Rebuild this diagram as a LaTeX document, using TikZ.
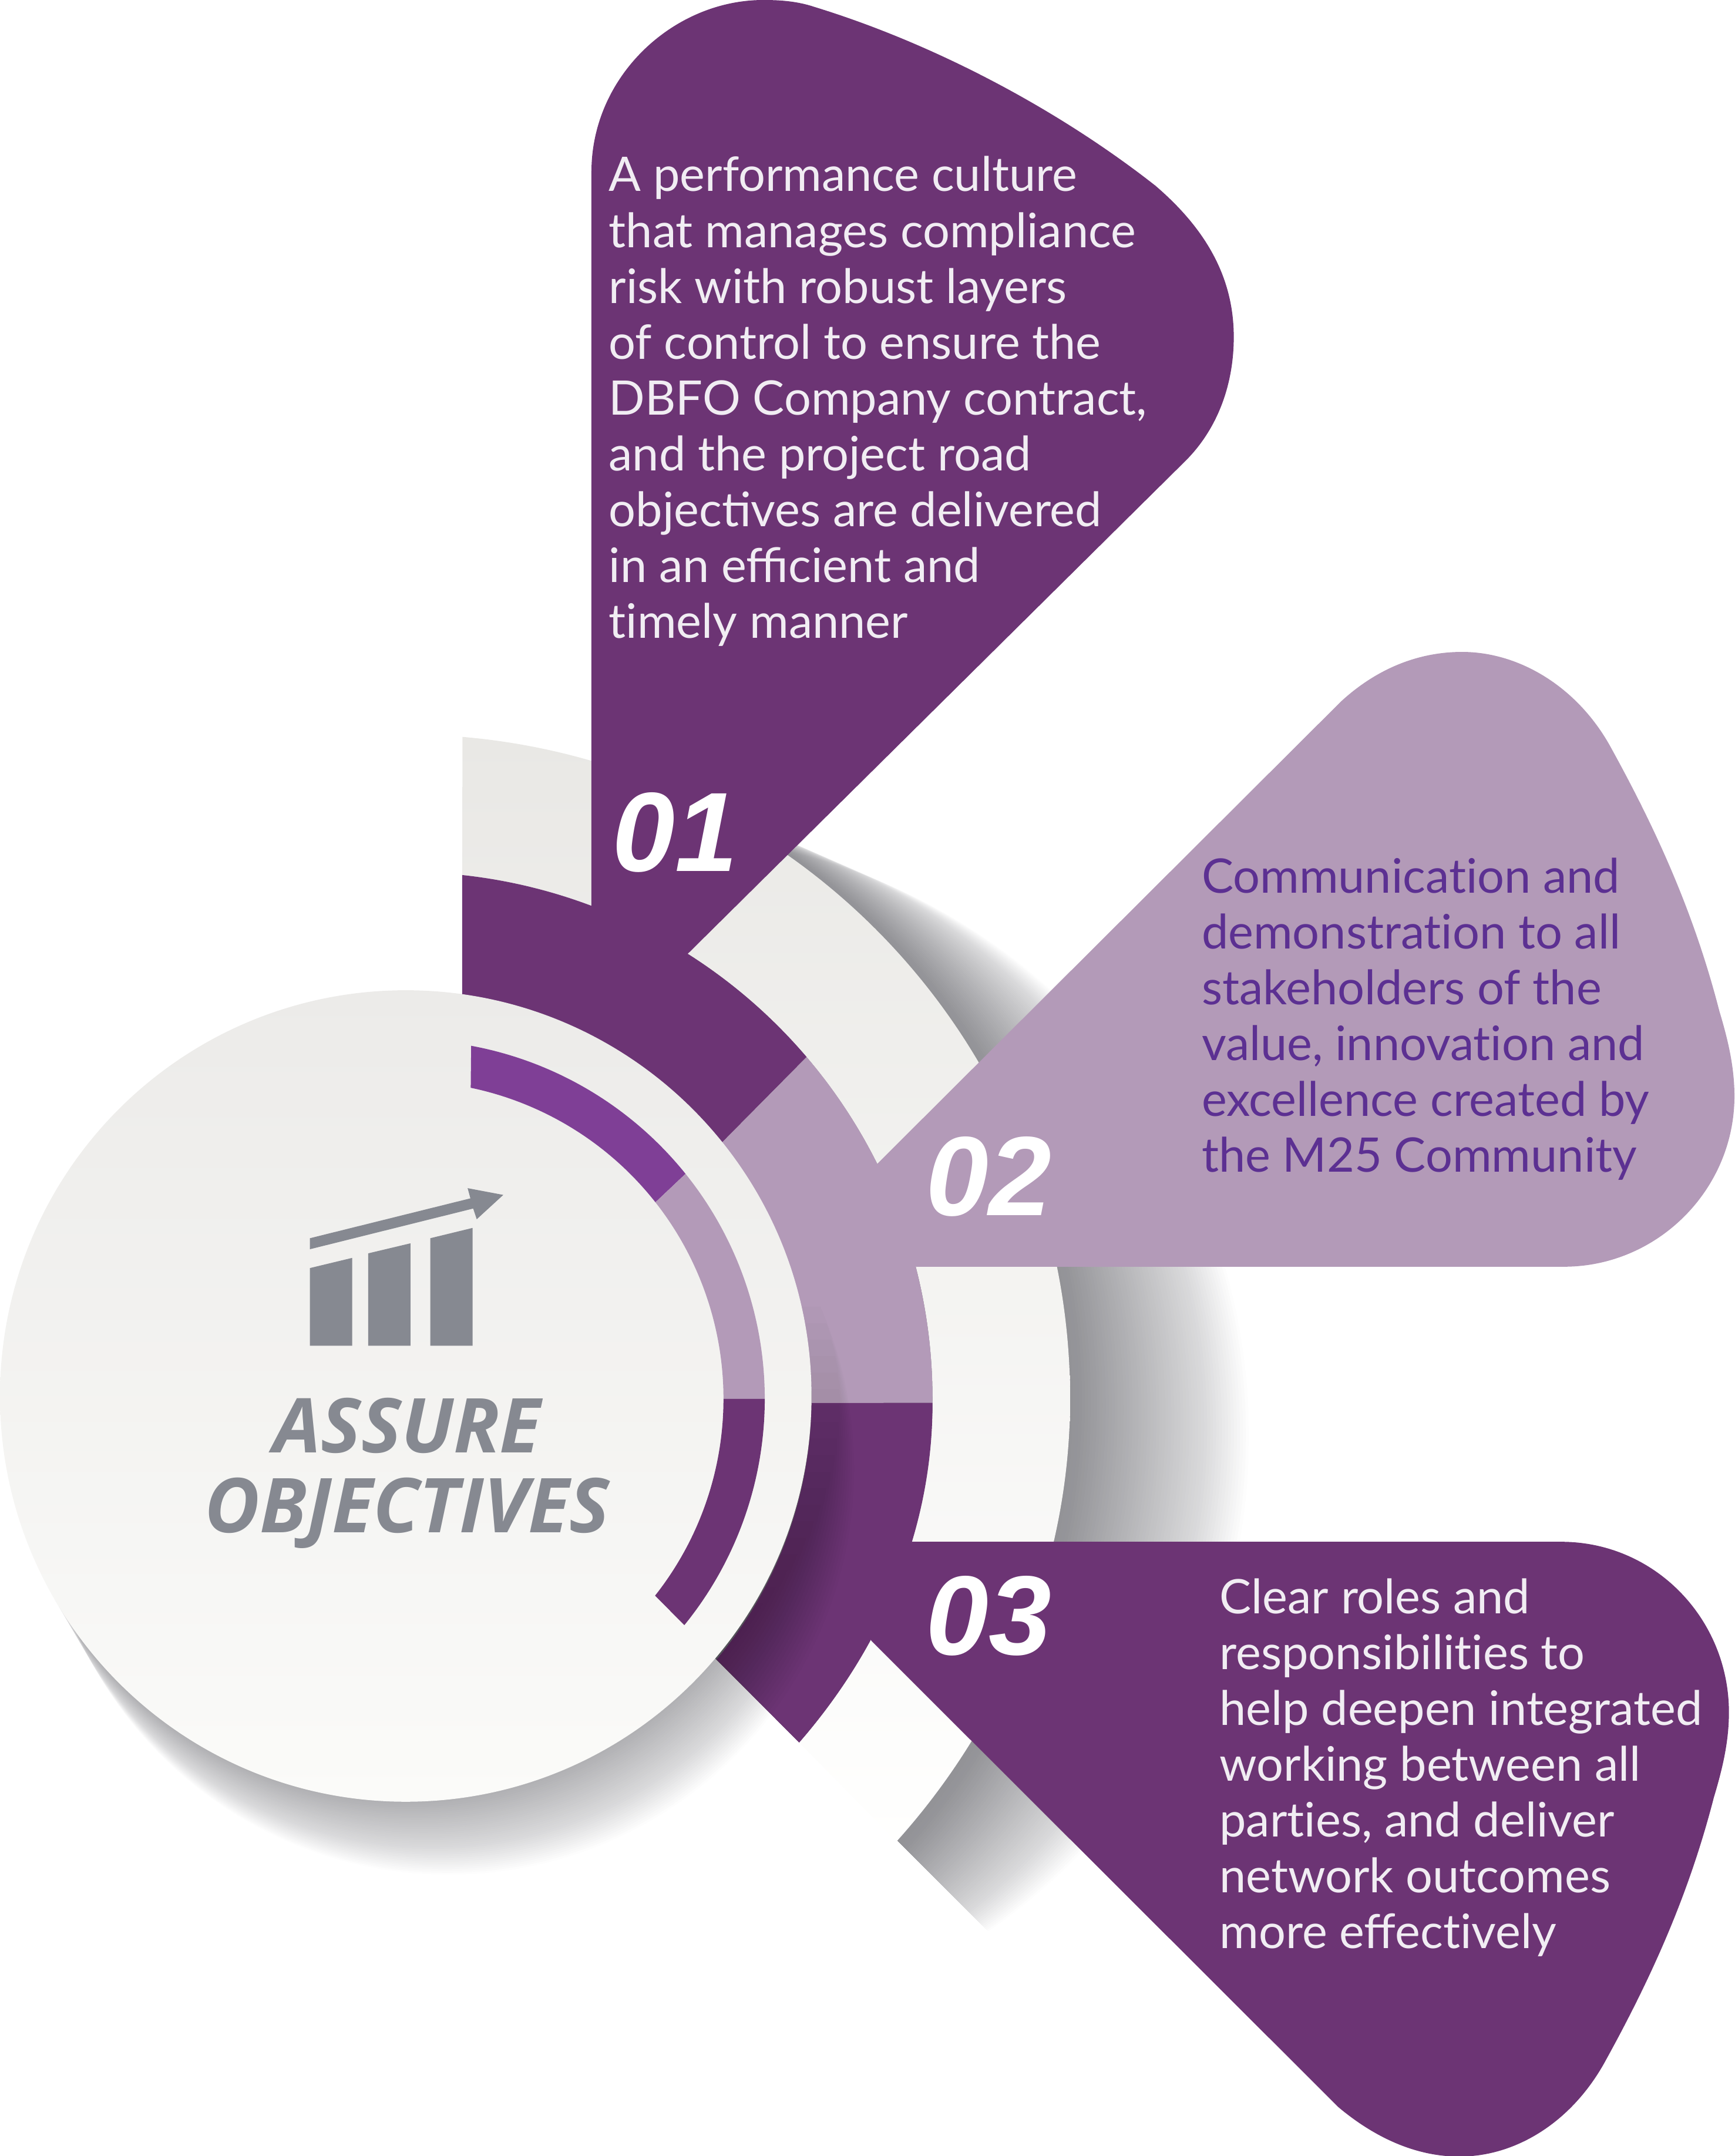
\documentclass[tikz,border=0pt]{standalone}
\usepackage{fontspec}
\setmainfont{Lato}
\newfontfamily\numfont{Liberation Sans}
\newfontfamily\headfont{Open Sans}
\definecolor{plum}{HTML}{6C3474}
\definecolor{lilac}{HTML}{B39AB8}
\definecolor{brightplum}{HTML}{7F3F96}
\definecolor{violettext}{HTML}{5C3092}
\definecolor{paletext}{HTML}{F1EDF3}
\definecolor{icongray}{HTML}{868991}
\definecolor{shadowink}{HTML}{2E2E36}
\definecolor{ringtop}{HTML}{E9E8E5}
\definecolor{ringmid}{HTML}{F2F2F0}
\definecolor{ringend}{HTML}{FFFFFE}
\definecolor{disctop}{HTML}{ECEBE9}
\definecolor{discend}{HTML}{FBFBF9}
\newcommand{\nolig}{\kern0pt }
\tikzset{
  bodytext/.style={inner sep=0pt,align=left,font=\fontsize{34.6}{40.6}\selectfont},
  numtext/.style={inner sep=0pt,text=white,font=\numfont\bfseries\itshape\fontsize{82}{82}\selectfont},
  headtext/.style={inner sep=0pt,text=icongray,align=center,font=\headfont\bfseries\itshape\fontsize{55}{58}\selectfont}
}
\begin{document}
\begin{tikzpicture}[x=1pt,y=-1pt]
\useasboundingbox (0,0) rectangle (1261,1567.6);
\coordinate (c) at (295,1017);
% ring shadow
\begin{scope}
\clip (520,1206) -- (1100,1786) -- (1200,500) -- (560,600) -- (295,1017) -- cycle;
\foreach \t in {1,...,60}{
  \pgfmathsetmacro\f{1-(\t-1)/60}
  \fill[shadowink,fill opacity=0.0115] ({295+176*\f},{1017+27*\f}) circle[radius={483-46*\f}];
}
\end{scope}
% light ring
\path[shade,top color=ringtop,middle color=ringmid,bottom color=ringend]
  ([shift={(-85.1:483)}]c) arc[start angle=-85.1,end angle=0,radius=483]
  .. controls (778,1136) and (731.3,1250.6) .. (651.7,1339) -- (581,1267)
  .. controls (641.4,1197.5) and (678,1112) .. (678,1017)
  arc[start angle=0,end angle=-83.85,radius=383] -- cycle;
% centre disc shadow on the white ground
\foreach \t in {1,...,40}{
  \pgfmathsetmacro\f{1-(\t-1)/40}
  \fill[shadowink,fill opacity=0.0135] ({295+31*\f},{1015+53*\f}) circle[radius=295];
}
% purple and lilac ring segments
\fill[plum] ([shift={(-83.85:383)}]c) arc[start angle=-83.85,end angle=-40.45,radius=383]
  -- ([shift={(-39:295)}]c) arc[start angle=-39,end angle=-82,radius=295] -- cycle;
\fill[lilac] ([shift={(-40.45:383)}]c) arc[start angle=-40.45,end angle=0.45,radius=383]
  -- ([shift={(0.6:295)}]c) arc[start angle=0.6,end angle=-39,radius=295] -- cycle;
\fill[plum] ([shift={(0.45:383)}]c) .. controls (678,1112) and (641.4,1197.5) .. (581,1267)
  -- ([shift={(40:295)}]c) arc[start angle=40,end angle=0.6,radius=295] -- cycle;
% centre disc shadow on the ring segments, fading out upwards
\foreach \t in {1,...,20}{
  \pgfmathsetmacro\f{1-(\t-1)/20}
  \pgfmathsetmacro\topy{950+12*(\t-1)}
  \begin{scope}
  \clip (520,1206) -- (640,1326) -- (720,\topy) -- (500,\topy) -- cycle;
  \fill[black,fill opacity=0.01] ({295+31*\f},{1015+53*\f}) circle[radius=295];
  \end{scope}
}
% centre disc
\path[shade,top color=disctop,bottom color=discend] (295,1015) circle[radius=295];
% inner arcs
\fill[brightplum] ([shift={(-79.5:261)}]c) arc[start angle=-79.5,end angle=-38.8,radius=261]
  -- ([shift={(-38.2:231)}]c) arc[start angle=-38.2,end angle=-78.2,radius=231] -- cycle;
\fill[lilac] ([shift={(-38.8:261)}]c) arc[start angle=-38.8,end angle=0,radius=261]
  -- ([shift={(0:231)}]c) arc[start angle=0,end angle=-38.2,radius=231] -- cycle;
\fill[plum] ([shift={(0:261)}]c) arc[start angle=0,end angle=39.1,radius=261]
  -- ([shift={(38.3:231)}]c) arc[start angle=38.3,end angle=0,radius=231] -- cycle;
% petals
\fill[plum] (430,660) -- (430,125) .. controls (430,55) and (490,0) .. (555,0)
  .. controls (568,0) and (580,1) .. (592,5)
  .. controls (680,32) and (770,80) .. (840,135)
  .. controls (875,165) and (897,200) .. (897,245)
  .. controls (897,280) and (885,312) .. (862,335) -- (500,693.5) -- (440,680) -- cycle;
\fill[lilac] (666,921) -- (1137,921) .. controls (1205,921) and (1261,865) .. (1261,797)
  .. controls (1261,775) and (1256,755) .. (1250,735)
  .. controls (1232,665) and (1205,605) .. (1172,545)
  .. controls (1148,500) and (1105,474) .. (1063,474)
  .. controls (1030,474) and (1000,487) .. (975,510) -- (638,846) -- (620,900) -- cycle;
\fill[plum] (663,1121) -- (1135,1121) .. controls (1203,1121) and (1257,1177) .. (1257,1245)
  .. controls (1257,1267) and (1252,1287) .. (1246,1307)
  .. controls (1228,1377) and (1201,1437) .. (1168,1497)
  .. controls (1144,1542) and (1103,1568) .. (1061,1568)
  .. controls (1028,1568) and (998,1553) .. (973,1532) -- (633.5,1193) -- (620,1150) -- cycle;
% icon
\fill[icongray] (225.3,978.5) -- (225.3,922) -- (256,914.6) -- (256,978.5) -- cycle;
\fill[icongray] (267.7,978.5) -- (267.7,911.3) -- (298.4,904) -- (298.4,978.5) -- cycle;
\fill[icongray] (312.8,978.5) -- (312.8,900.3) -- (343.6,892.8) -- (343.6,978.5) -- cycle;
\fill[icongray] (225.3,900.3) -- (342,871.3) -- (340,863.9) -- (365.9,868.8) -- (346.6,886.5) -- (344,878.7) -- (225.3,908.3) -- cycle;
% texts
\node[headtext] (head) at (296,1071) {ASSURE\\OBJECTIVES};
\node[numtext,anchor=base west] (n1) at (445,633.5) {01};
\node[numtext,anchor=base west] (n2) at (673,883.5) {02};
\node[numtext,anchor=base west] (n3) at (673,1203) {03};
\node[bodytext,text=paletext,anchor=north west] (t1) at (442.5,113.5) {A performance culture\\that manages compliance\\risk with robust layers\\of control to ensure the\\DBFO Company contract,\\and the project road\\objecti\nolig ves are delivered\\in an efficient and\\t\nolig imely manner};
\node[bodytext,text=violettext,anchor=north west] (t2) at (873.5,623.5) {Communicat\nolig ion and\\demonstrat\nolig ion to all\\stakeholders of the\\value, innovat\nolig ion and\\excellence created by\\the M25 Community};
\node[bodytext,text=paletext,anchor=north west] (t3) at (886.5,1147.5) {Clear roles and\\responsibilit\nolig ies to\\help deepen integrated\\working between all\\part\nolig ies, and deliver\\network outcomes\\more effect\nolig ively};
\end{tikzpicture}
\end{document}
